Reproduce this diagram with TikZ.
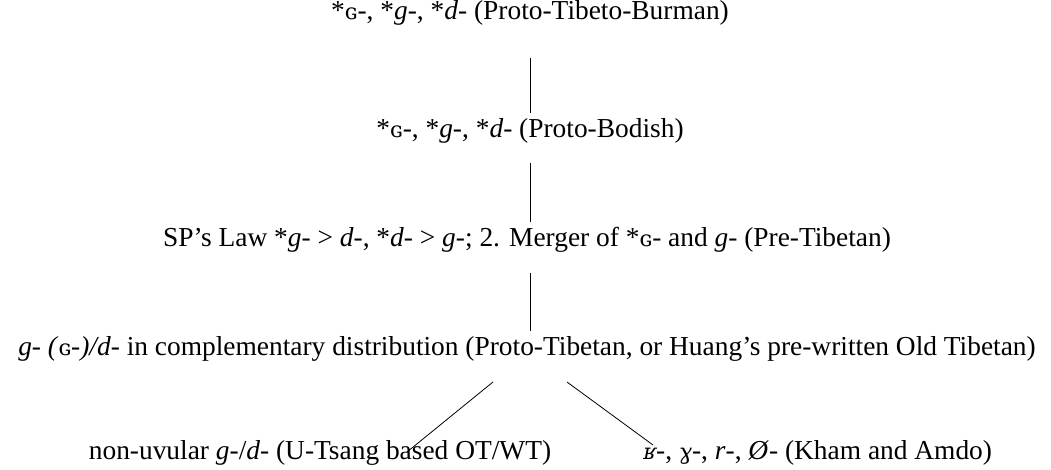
\documentclass[tikz,border=0pt]{standalone}
\usepackage{fontspec}
\setmainfont{Liberation Serif}
\newfontfamily\ipafont[Scale=0.8]{DejaVu Serif}
\usetikzlibrary{calc}

\newcommand{\uvG}{{\ipafont ɢ}}
\newcommand{\ipa}[1]{{\ipafont\itshape #1}}

\begin{document}
\begin{tikzpicture}[x=0.5pt,y=-0.5pt,
		every node/.style={font=\fontsize{13.7}{16}\selectfont, inner sep=0pt, anchor=base},
		edge/.style={draw, line width=0.4pt}]
	\useasboundingbox (0,0) rectangle (1051,470);
	
	% Stages
	\node (ptb) at (530,20) {*\uvG-, *\textit{g}-, *\textit{d}- (Proto-Tibeto-Burman)};
	\node (pb) at (530,138) {*\uvG-, *\textit{g}-, *\textit{d}- (Proto-Bodish)};
	\node (pret) at (527,247) {SP’s Law *\textit{g}- > \textit{d}-, *\textit{d}- > \textit{g}-; 2. Merger of *\uvG- and \textit{g}- (Pre-Tibetan)};
	\node (prot) at (527,356) {\textit{g}- \textit{(}\uvG\textit{-)/d}- in complementary distribution (Proto-Tibetan, or Huang’s pre-written Old Tibetan)};
	
	% Daughters
	\node (ut) at (320,460) {non-uvular \textit{g}-/\textit{d}- (U-Tsang based OT/WT)};
	\node[anchor=base west] (ka) at (643,460) {\ipa{ʁ}-, \ipa{ɣ}-, \textit{r}-, \textit{Ø}- (Kham and Amdo)};
	
	% Edges
	\draw[edge, shorten <=19pt, shorten >=12.5pt] (ptb.base) -- (pb.base);
	\draw[edge, shorten <=12.5pt, shorten >=12.5pt] (pb.base) -- ([xshift=1.5pt]pret.base);
	\draw[edge, shorten <=13pt, shorten >=12.5pt] ([xshift=1.5pt]pret.base) -- ([xshift=1.5pt]prot.base);
	\draw[edge] ([shift={(-34,26)}]prot.base) -- ([shift={(87,-8)}]ut.base);
	\draw[edge] ([shift={(40,26)}]prot.base) -- ([shift={(10,-15)}]ka.base west);
	
\end{tikzpicture}
\end{document}
